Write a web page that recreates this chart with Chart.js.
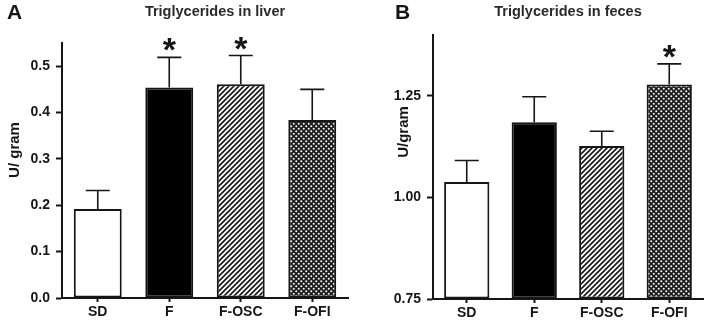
<!DOCTYPE html>
<html>
<head>
<meta charset="utf-8">
<script src="https://cdn.jsdelivr.net/npm/chart.js@4.4.1/dist/chart.umd.min.js"></script>
<style>
  html, body { margin: 0; padding: 0; background: #fff; }
  #wrap { position: relative; width: 709px; height: 321px; overflow: hidden; }
  .panel { position: absolute; top: 0; height: 321px; }
  canvas { display: block; }
</style>
</head>
<body>
<div id="wrap">
  <div class="panel" style="left:0;width:360px"><canvas id="chartA" width="360" height="321"></canvas></div>
  <div class="panel" style="left:360px;width:349px"><canvas id="chartB" width="349" height="321"></canvas></div>
</div>
<script>
// groups
const categories = ['SD', 'F', 'F-OSC', 'F-OFI']

// A: triglycerides in liver (U/ gram), mean + upper error
const liverMean = [0.192, 0.454, 0.461, 0.384]
const liverErr = [0.040, 0.065, 0.062, 0.066]
const liverStars = ['', '*', '*', '']
const liverTicks = [0.0, 0.1, 0.2, 0.3, 0.4, 0.5]

// B: triglycerides in feces (U/gram)
const fecesMean = [1.038, 1.185, 1.127, 1.278]
const fecesErr = [0.053, 0.063, 0.036, 0.051]
const fecesStars = ['', '', '', '*']
const fecesTicks = [0.75, 1.00, 1.25]

const FONT = '"Liberation Sans", Arial, sans-serif'
const INK = '#161616'

// hatch fills
function diagPattern() {
  const c = document.createElement('canvas')
  c.width = 5; c.height = 5
  const g = c.getContext('2d')
  g.fillStyle = '#fff'
  g.fillRect(0, 0, 5, 5)
  g.strokeStyle = '#1a1a1a'
  g.lineWidth = 1.7
  g.beginPath()
  g.moveTo(-1, 6); g.lineTo(6, -1)
  g.moveTo(-1, 1); g.lineTo(1, -1)
  g.moveTo(4, 6); g.lineTo(6, 4)
  g.stroke()
  return g.createPattern(c, 'repeat')
}

function crossPattern() {
  const c = document.createElement('canvas')
  c.width = 5; c.height = 5
  const g = c.getContext('2d')
  g.fillStyle = '#1c1c1c'
  g.fillRect(0, 0, 5, 5)
  g.fillStyle = '#f4f4f4'
  g.beginPath()
  g.arc(1.25, 1.25, 1.05, 0, Math.PI * 2)
  g.arc(3.75, 3.75, 1.05, 0, Math.PI * 2)
  g.fill()
  return g.createPattern(c, 'repeat')
}

// error bars, significance stars and the panel headings
const decorPlugin = {
  id: 'decor',
  afterDatasetsDraw(chart, args, opts) {
    const ctx = chart.ctx
    const y = chart.scales.y
    const meta = chart.getDatasetMeta(0)
    ctx.save()
    meta.data.forEach((bar, i) => {
      const top = y.getPixelForValue(opts.mean[i] + opts.err[i])
      ctx.strokeStyle = INK
      ctx.lineWidth = 1.6
      ctx.beginPath()
      ctx.moveTo(bar.x, bar.y)
      ctx.lineTo(bar.x, top)
      ctx.moveTo(bar.x - 12, top)
      ctx.lineTo(bar.x + 12, top)
      ctx.stroke()
      if (opts.stars[i]) {
        ctx.fillStyle = INK
        ctx.font = 'bold 34px ' + FONT
        ctx.textAlign = 'center'
        ctx.textBaseline = 'alphabetic'
        ctx.fillText(opts.stars[i], bar.x, top + 4)
      }
    })
    ctx.restore()
  },
  afterDraw(chart, args, opts) {
    const ctx = chart.ctx
    ctx.save()
    ctx.fillStyle = INK
    ctx.textBaseline = 'alphabetic'
    ctx.textAlign = 'left'
    ctx.font = 'bold 21px ' + FONT
    ctx.fillText(opts.letter, opts.letterX, 19)
    ctx.fillStyle = '#2a2a2a'
    ctx.textAlign = 'center'
    ctx.font = 'bold 14.5px ' + FONT
    ctx.fillText(opts.title, opts.titleX, 16)
    ctx.fillStyle = INK
    ctx.translate(opts.yTitleX, opts.yTitleY)
    ctx.rotate(-Math.PI / 2)
    ctx.textBaseline = 'middle'
    ctx.font = 'bold 15px ' + FONT
    ctx.fillText(opts.yTitle, 0, 0)
    ctx.restore()
  }
}

function makeChart(id, cfg) {
  const ctx = document.getElementById(id).getContext('2d')
  return new Chart(ctx, {
    type: 'bar',
    data: {
      labels: categories,
      datasets: [{
        data: cfg.mean,
        base: cfg.min,
        backgroundColor: ['#ffffff', '#000000', diagPattern(), crossPattern()],
        borderColor: INK,
        borderWidth: 2,
        borderSkipped: false,
        barPercentage: 0.67,
        categoryPercentage: 1.0
      }]
    },
    options: {
      responsive: false,
      animation: false,
      events: [],
      layout: { padding: { top: cfg.top, right: cfg.right, left: 0, bottom: 0 } },
      plugins: {
        legend: { display: false },
        tooltip: { enabled: false },
        decor: {
          mean: cfg.mean, err: cfg.err, stars: cfg.stars,
          letter: cfg.letter, letterX: cfg.letterX,
          title: cfg.title, titleX: cfg.titleX,
          yTitle: cfg.yTitle, yTitleX: cfg.yTitleX, yTitleY: cfg.yTitleY
        }
      },
      scales: {
        x: {
          offset: true,
          grid: { offset: false, drawOnChartArea: false, drawTicks: true, tickLength: 4, tickWidth: 2, tickColor: INK },
          border: { color: INK, width: 2 },
          ticks: { color: INK, padding: 2, maxRotation: 0, font: { family: FONT, size: 14, weight: 'bold' } },
          afterFit(axis) { axis.height = cfg.xHeight }
        },
        y: {
          min: cfg.min,
          max: cfg.max,
          grid: { drawOnChartArea: false, drawTicks: true, tickLength: 6, tickWidth: 2, tickColor: INK },
          border: { color: INK, width: 2 },
          ticks: {
            color: INK, padding: 6,
            font: { family: FONT, size: 14, weight: 'bold' },
            callback: v => v.toFixed(cfg.decimals)
          },
          afterBuildTicks(axis) { axis.ticks = cfg.ticks.map(v => ({ value: v })) },
          afterFit(axis) { axis.width = cfg.yWidth }
        }
      }
    },
    plugins: [decorPlugin]
  })
}

makeChart('chartA', {
  mean: liverMean, err: liverErr, stars: liverStars, ticks: liverTicks,
  min: 0, max: 0.55, decimals: 1,
  top: 43, right: 12, yWidth: 62, xHeight: 23,
  letter: 'A', letterX: 7,
  title: 'Triglycerides in liver', titleX: 215,
  yTitle: 'U/ gram', yTitleX: 15, yTitleY: 150
})

makeChart('chartB', {
  mean: fecesMean, err: fecesErr, stars: fecesStars, ticks: fecesTicks,
  min: 0.75, max: 1.40, decimals: 2,
  top: 35, right: 6, yWidth: 73, xHeight: 22,
  letter: 'B', letterX: 35,
  title: 'Triglycerides in feces', titleX: 208,
  yTitle: 'U/gram', yTitleX: 44, yTitleY: 132
})
</script>
</body>
</html>
